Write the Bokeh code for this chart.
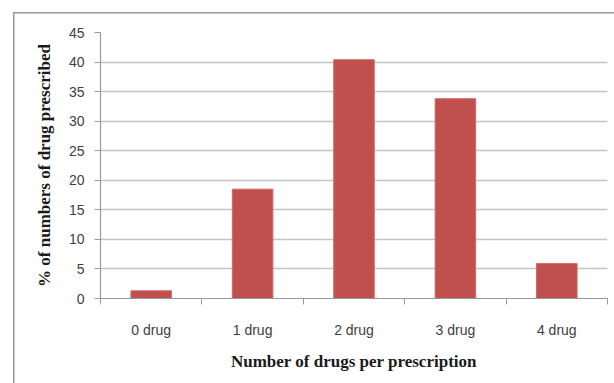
from bokeh.plotting import figure
from bokeh.models import ColumnDataSource, Range1d, FixedTicker
from bokeh.embed import file_html
from bokeh.resources import INLINE

categories = ["0 drug", "1 drug", "2 drug", "3 drug", "4 drug"]
values = [1.3, 18.5, 40.4, 33.8, 5.9]
y_ticks = [0, 5, 10, 15, 20, 25, 30, 35, 40, 45]

positions = [i + 0.5 for i in range(len(categories))]
src = ColumnDataSource(dict(x=positions, top=values, cat=categories))

p = figure(width=614, height=383, output_backend="svg", toolbar_location=None,
           x_range=Range1d(0, len(categories)), y_range=Range1d(0, 45),
           min_border_left=100, min_border_right=7, min_border_top=32,
           min_border_bottom=85)

p.vbar(x="x", top="top", width=0.4, bottom=0, source=src,
       fill_color="#C0504D", line_color="#D06A66", line_width=1)

# axes
xt = FixedTicker(ticks=positions, minor_ticks=list(range(len(categories) + 1)))
p.xaxis.ticker = xt
p.xaxis.major_label_overrides = {pos: c for pos, c in zip(positions, categories)}
p.xaxis.major_tick_out = 0
p.xaxis.major_tick_in = 0
p.xaxis.minor_tick_out = 6
p.xaxis.minor_tick_in = 0
p.xaxis.minor_tick_line_color = "#9a9a9a"
p.xaxis.major_label_standoff = 17
p.xaxis.axis_label = "Number of drugs per prescription"
p.xaxis.axis_label_standoff = 11

p.yaxis.ticker = FixedTicker(ticks=y_ticks)
p.yaxis.major_tick_out = 6
p.yaxis.major_tick_in = 0
p.yaxis.minor_tick_line_color = None
p.yaxis.major_tick_line_color = "#9a9a9a"
p.yaxis.major_label_standoff = 10
p.yaxis.axis_label = "% of numbers of drug prescribed"
p.yaxis.axis_label_standoff = 12

for ax in (p.xaxis, p.yaxis):
    ax.axis_line_color = "#9a9a9a"
    ax.axis_line_width = 1.2
    ax.major_label_text_font = "Liberation Sans"
    ax.major_label_text_font_size = "14px"
    ax.major_label_text_color = "#404040"
    ax.axis_label_text_font = "Liberation Serif"
    ax.axis_label_text_font_style = "bold"
    ax.axis_label_text_font_size = "17px"
    ax.axis_label_text_color = "#1a1a1a"

p.xgrid.grid_line_color = None
p.ygrid.ticker = FixedTicker(ticks=y_ticks)
p.ygrid.grid_line_color = "#c4c4c4"
p.ygrid.grid_line_width = 1.5
p.outline_line_color = None

# outer chart border (left and top edges visible), drawn as page background
p.border_fill_color = None
p.background_fill_color = "white"
p.styles = {
    "background-color": "white",
    "background-image": "linear-gradient(#9a9a9a, #9a9a9a), linear-gradient(#9a9a9a, #9a9a9a)",
    "background-size": "1.5px 100%, 100% 1.5px",
    "background-position": "13px 12px, 13px 12px",
    "background-repeat": "no-repeat",
}

open("out.html", "w").write(file_html(p, INLINE))
